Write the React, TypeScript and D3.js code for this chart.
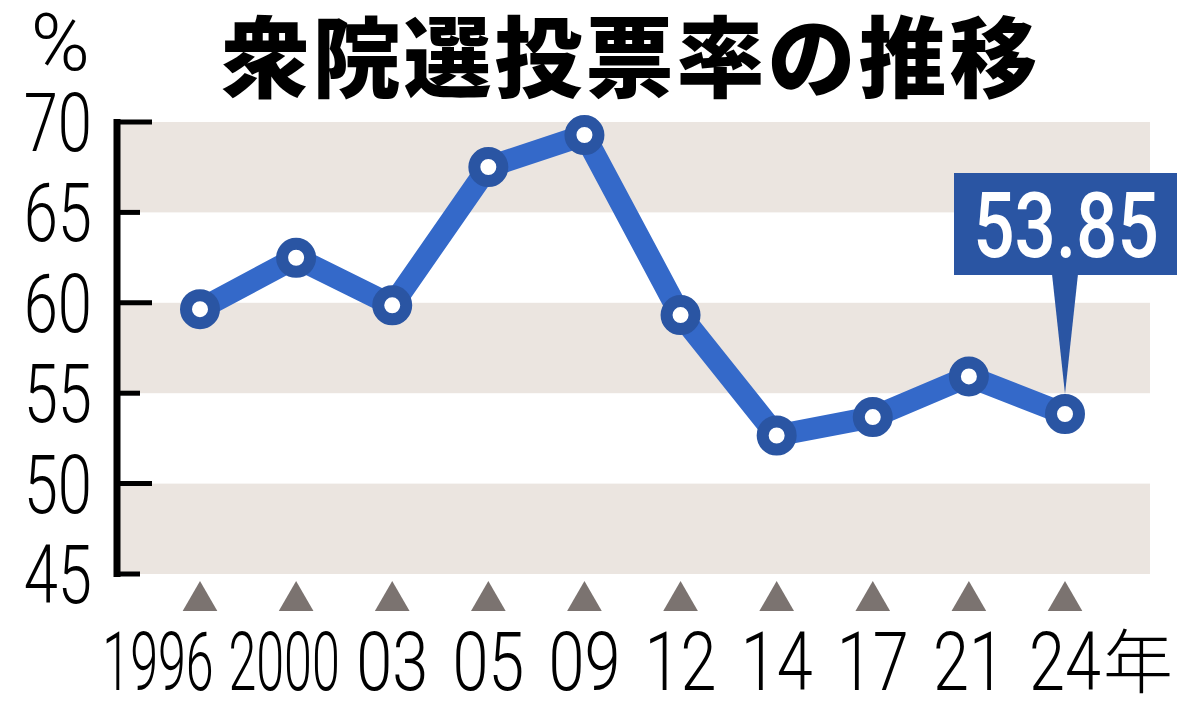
import { useRef, useEffect } from "react";
import * as d3 from "d3";

const years = ["1996", "2000", "03", "05", "09", "12", "14", "17", "21", "24"];
const turnout = [59.65, 62.49, 59.86, 67.51, 69.28, 59.32, 52.66, 53.68, 55.93, 53.85];
const yTicks = [70, 65, 60, 55, 50, 45];
const bands = [[65, 70], [55, 60], [45, 50]];
const title = "衆院選投票率の推移";
const yearSuffix = "年";
const calloutText = "53.85";

const lineColor = "#3469c9";
const markerColor = "#2a55a3";
const bandColor = "#ebe5e0";

export default function App() {
  const svgRef = useRef<SVGSVGElement>(null);
  const W = 1200;
  const H = 705;

  useEffect(() => {
    if (!svgRef.current) return;
    const svg = d3.select(svgRef.current);
    svg.selectAll("*").remove();

    const axisX = 117;
    const x = d3.scalePoint<string>().domain(years).range([200, 1065]);
    const y = d3.scaleLinear().domain([45, 70]).range([574, 122]);
    const cond = "Roboto, 'Liberation Sans', sans-serif";

    // Background bands
    for (const [lo, hi] of bands) {
      svg.append("rect")
        .attr("x", axisX)
        .attr("y", y(hi))
        .attr("width", 1150 - axisX)
        .attr("height", y(lo) - y(hi))
        .attr("fill", bandColor);
    }

    // Title
    svg.append("text")
      .attr("x", 631)
      .attr("y", 90)
      .attr("text-anchor", "middle")
      .attr("font-family", "'Noto Sans CJK JP', sans-serif")
      .attr("font-weight", 900)
      .attr("font-size", 88)
      .attr("letter-spacing", 3)
      .attr("fill", "#000")
      .text(title);

    // Y axis
    svg.append("line")
      .attr("x1", axisX).attr("x2", axisX)
      .attr("y1", y(70) - 3).attr("y2", y(45) + 3)
      .attr("stroke", "#000").attr("stroke-width", 7);
    for (const t of yTicks) {
      const long = t % 10 === 0;
      svg.append("line")
        .attr("x1", axisX).attr("x2", long ? 152 : 140)
        .attr("y1", y(t)).attr("y2", y(t))
        .attr("stroke", "#000").attr("stroke-width", 5);
      svg.append("text")
        .attr("transform", `translate(92,${y(t) + 29}) scale(0.76,1)`)
        .attr("text-anchor", "end")
        .attr("font-family", cond)
        .attr("font-weight", 300)
        .attr("font-size", 81)
        .attr("fill", "#000")
        .text(t);
    }
    svg.append("text")
      .attr("x", 90)
      .attr("y", 70)
      .attr("text-anchor", "end")
      .attr("font-family", cond)
      .attr("font-weight", 300)
      .attr("font-size", 80)
      .attr("fill", "#000")
      .text("%");

    // Year markers and labels
    const tri = d3.symbol().type(d3.symbolTriangle).size(520);
    years.forEach((yr, i) => {
      const cx = x(yr)!;
      const wide = yr.length > 2;
      // four-digit years sit a little left of their marker
      const shift = wide ? (i === 0 ? -42 : -12) : 0;
      svg.append("path")
        .attr("d", tri()!)
        .attr("transform", `translate(${cx},${601})`)
        .attr("fill", "#7b7370");
      svg.append("text")
        .attr("transform", `translate(${cx + shift},690) scale(${wide ? 0.62 : 0.8},1)`)
        .attr("text-anchor", "middle")
        .attr("font-family", cond)
        .attr("font-weight", 300)
        .attr("font-size", 81)
        .attr("fill", "#000")
        .text(yr);
      if (i === years.length - 1) {
        svg.append("text")
          .attr("x", cx + 38)
          .attr("y", 688)
          .attr("font-family", "'Noto Sans CJK JP', sans-serif")
          .attr("font-weight", 300)
          .attr("font-size", 70)
          .attr("fill", "#000")
          .text(yearSuffix);
      }
    });

    // Line
    const line = d3.line<number>()
      .x((_, i) => x(years[i])!)
      .y((d) => y(d));
    svg.append("path")
      .attr("d", line(turnout)!)
      .attr("fill", "none")
      .attr("stroke", lineColor)
      .attr("stroke-width", 22)
      .attr("stroke-linejoin", "miter");

    // Markers
    turnout.forEach((v, i) => {
      svg.append("circle")
        .attr("cx", x(years[i])!)
        .attr("cy", y(v))
        .attr("r", 14)
        .attr("fill", "#fff")
        .attr("stroke", markerColor)
        .attr("stroke-width", 12);
    });

    // Callout for latest value
    const last = turnout.length - 1;
    const px = x(years[last])!;
    const py = y(turnout[last]) - 20;
    const boxTop = 173;
    const boxBottom = 275;
    svg.append("path")
      .attr("d", `M${px - 13},${boxBottom - 1} L${px + 13},${boxBottom - 1} L${px},${py} Z`)
      .attr("fill", markerColor);
    svg.append("rect")
      .attr("x", 954)
      .attr("y", boxTop)
      .attr("width", 223)
      .attr("height", boxBottom - boxTop)
      .attr("fill", markerColor);
    svg.append("text")
      .attr("transform", `translate(1066,257) scale(0.8,1)`)
      .attr("text-anchor", "middle")
      .attr("font-family", cond)
      .attr("font-weight", 500)
      .attr("font-size", 91)
      .attr("fill", "#fff")
      .text(calloutText);
  }, []);

  return (
    <svg
      ref={svgRef}
      width={W}
      height={H}
      viewBox={`0 0 ${W} ${H}`}
      style={{ position: "absolute", left: 0, top: 0, background: "#fff" }}
    />
  );
}
